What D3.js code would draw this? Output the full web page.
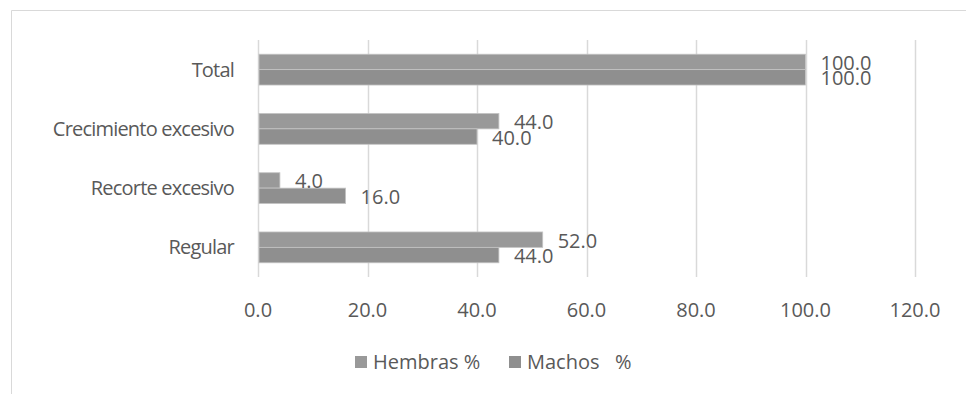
<!DOCTYPE html>
<html>
<head>
<meta charset="utf-8">
<script src="https://cdn.jsdelivr.net/npm/d3@7"></script>
<style>
  body { margin: 0; background: #fff; }
  text { font-family: "Open Sans", sans-serif; fill: #595959; }
</style>
</head>
<body>
<script>
const width = 966;
const height = 394;

const categories = ["Total", "Crecimiento excesivo", "Recorte excesivo", "Regular"];
const seriesNames = ["Hembras %", "Machos   %"];
const hembras = [100.0, 44.0, 4.0, 52.0];
const machos = [100.0, 40.0, 16.0, 44.0];
const xTicks = [0, 20, 40, 60, 80, 100, 120];

const colors = ["#999999", "#8f8f8f"];
const margin = {top: 40, left: 258, right: 51, bottom: 117};

const svg = d3.select("body").append("svg")
    .attr("width", width)
    .attr("height", height);

// chart frame (only top and left edges are visible in the crop)
svg.append("path")
    .attr("d", `M11.5,${height} V10.5 H${width}`)
    .attr("fill", "none")
    .attr("stroke", "#d9d9d9");

const x = d3.scaleLinear()
    .domain([0, 120])
    .range([margin.left, width - margin.right]);

const y = d3.scaleBand()
    .domain(categories)
    .range([margin.top, height - margin.bottom])
    .paddingInner(0.48)
    .paddingOuter(0.24);

const ySub = d3.scaleBand()
    .domain(seriesNames)
    .range([0, y.bandwidth()]);

// gridlines
svg.append("g")
    .selectAll("line")
    .data(xTicks)
    .join("line")
    .attr("x1", d => Math.round(x(d)) + 0.5)
    .attr("x2", d => Math.round(x(d)) + 0.5)
    .attr("y1", margin.top)
    .attr("y2", height - margin.bottom)
    .attr("stroke", "#d9d9d9")
    .attr("stroke-width", 1.5);

// tick labels
svg.append("g")
    .selectAll("text")
    .data(xTicks)
    .join("text")
    .attr("x", d => x(d))
    .attr("y", 317)
    .attr("text-anchor", "middle")
    .style("font-size", "20px")
    .text(d => d3.format(".1f")(d));

// category labels
svg.append("g")
    .selectAll("text")
    .data(categories)
    .join("text")
    .attr("x", 234)
    .attr("y", d => y(d) + y.bandwidth() / 2)
    .attr("dy", "0.35em")
    .attr("text-anchor", "end")
    .style("font-size", "20px")
    .style("letter-spacing", "-0.8px")
    .text(d => d);

const rows = categories.map((c, i) => ({cat: c, values: [hembras[i], machos[i]]}));

const groups = svg.append("g")
    .selectAll("g")
    .data(rows)
    .join("g")
    .attr("transform", d => `translate(0,${y(d.cat)})`);

groups.selectAll("rect")
    .data(d => d.values.map((v, j) => ({v, s: seriesNames[j], j})))
    .join("rect")
    .attr("x", x(0) + 1)
    .attr("y", d => ySub(d.s))
    .attr("width", d => x(d.v) - x(0) - 1)
    .attr("height", ySub.bandwidth())
    .attr("fill", d => colors[d.j])
    .attr("stroke", "#c4c4c4")
    .attr("stroke-width", 0.8);

groups.selectAll("text.label")
    .data(d => d.values.map((v, j) => ({v, s: seriesNames[j], j})))
    .join("text")
    .attr("class", "label")
    .attr("x", d => x(d.v) + 15)
    .attr("y", d => ySub(d.s) + ySub.bandwidth() / 2 + 1)
    .attr("dy", "0.35em")
    .style("font-size", "20px")
    .text(d => d3.format(".1f")(d.v));

// legend
const legendX = [355, 509];
const legend = svg.append("g")
    .selectAll("g")
    .data(seriesNames)
    .join("g")
    .attr("transform", (d, i) => `translate(${legendX[i]},356)`);

legend.append("rect")
    .attr("width", 12)
    .attr("height", 12)
    .attr("fill", (d, i) => colors[i]);

legend.append("text")
    .attr("x", 18)
    .attr("y", 6)
    .attr("dy", "0.35em")
    .style("font-size", "20px")
    .style("white-space", "pre")
    .text(d => d);
</script>
</body>
</html>
